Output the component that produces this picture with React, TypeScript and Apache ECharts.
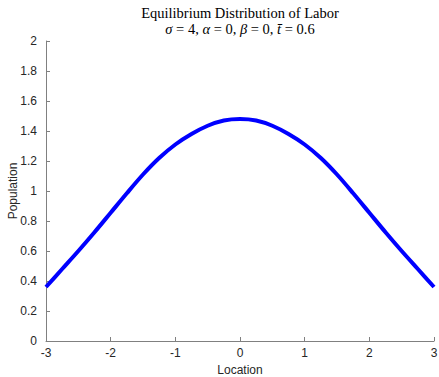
import React, { useEffect, useRef } from "react";
import * as echarts from "echarts";

// Equilibrium labor distribution sampled along location
const locations = [
  -3, -2.75, -2.5, -2.25, -2, -1.75, -1.5, -1.25, -1, -0.75, -0.5, -0.25, 0,
  0.25, 0.5, 0.75, 1, 1.25, 1.5, 1.75, 2, 2.25, 2.5, 2.75, 3,
];
const population = [
  0.36, 0.48, 0.6, 0.725, 0.855, 0.985, 1.11, 1.22, 1.31, 1.38, 1.435, 1.47, 1.48,
  1.47, 1.435, 1.38, 1.31, 1.22, 1.11, 0.985, 0.855, 0.725, 0.6, 0.48, 0.36,
];

const titleLine = "Equilibrium Distribution of Labor";
const paramLine = "{i|σ} = 4, {i|α} = 0, {i|β} = 0, {i|t̄} = 0.6";

const axisColor = "#808080";
const textColor = "#262626";
const sans = "Liberation Sans, Arial, sans-serif";
const serif = "Liberation Serif, Times New Roman, serif";

export default function App() {
  const ref = useRef<HTMLDivElement>(null);

  useEffect(() => {
    if (!ref.current) return;
    const chart = echarts.init(ref.current, undefined, { renderer: "svg" });
    chart.setOption({
      animation: false,
      backgroundColor: "#ffffff",
      grid: {
        left: 46,
        right: 5,
        top: 41,
        bottom: 36,
        containLabel: false,
        outerBoundsMode: "none",
      },
      graphic: [
        {
          type: "text",
          x: 240,
          y: 13,
          style: {
            text: titleLine,
            fontFamily: serif,
            fontSize: 14.5,
            fill: "#000",
            align: "center",
            verticalAlign: "middle",
          },
        },
        {
          type: "text",
          x: 240,
          y: 29,
          style: {
            text: paramLine,
            fontFamily: serif,
            fontSize: 14.5,
            fill: "#000",
            align: "center",
            verticalAlign: "middle",
            rich: {
              i: { fontFamily: serif, fontSize: 14.5, fontStyle: "italic", fill: "#000" },
            },
          },
        },
      ],
      xAxis: {
        type: "value",
        min: -3,
        max: 3,
        interval: 1,
        name: "Location",
        nameLocation: "middle",
        nameGap: 23,
        nameTextStyle: { fontFamily: sans, fontSize: 12, color: textColor },
        axisLine: { show: true, onZero: false, lineStyle: { color: axisColor, width: 1 } },
        axisTick: { show: true, inside: true, length: 4, lineStyle: { color: axisColor } },
        axisLabel: { fontFamily: sans, fontSize: 12, color: textColor, margin: 6 },
        splitLine: { show: false },
      },
      yAxis: {
        type: "value",
        min: 0,
        max: 2,
        interval: 0.2,
        name: "Population",
        nameLocation: "middle",
        nameGap: 27,
        nameMoveOverlap: false,
        nameTextStyle: { fontFamily: sans, fontSize: 12, color: textColor },
        axisLine: { show: true, onZero: false, lineStyle: { color: axisColor, width: 1 } },
        axisTick: { show: true, inside: true, length: 4, lineStyle: { color: axisColor } },
        axisLabel: {
          fontFamily: sans,
          fontSize: 12,
          color: textColor,
          margin: 9,
          formatter: (v: number) => String(Math.round(v * 10) / 10),
        },
        splitLine: { show: false },
      },
      series: [
        {
          type: "line",
          data: locations.map((x, i) => [x, population[i]]),
          smooth: 0.3,
          showSymbol: false,
          lineStyle: { color: "#0000ff", width: 4 },
        },
      ],
    });
    return () => chart.dispose();
  }, []);

  return (
    <div
      ref={ref}
      style={{ position: "fixed", left: 0, top: 0, width: 439, height: 377, background: "#fff" }}
    />
  );
}
